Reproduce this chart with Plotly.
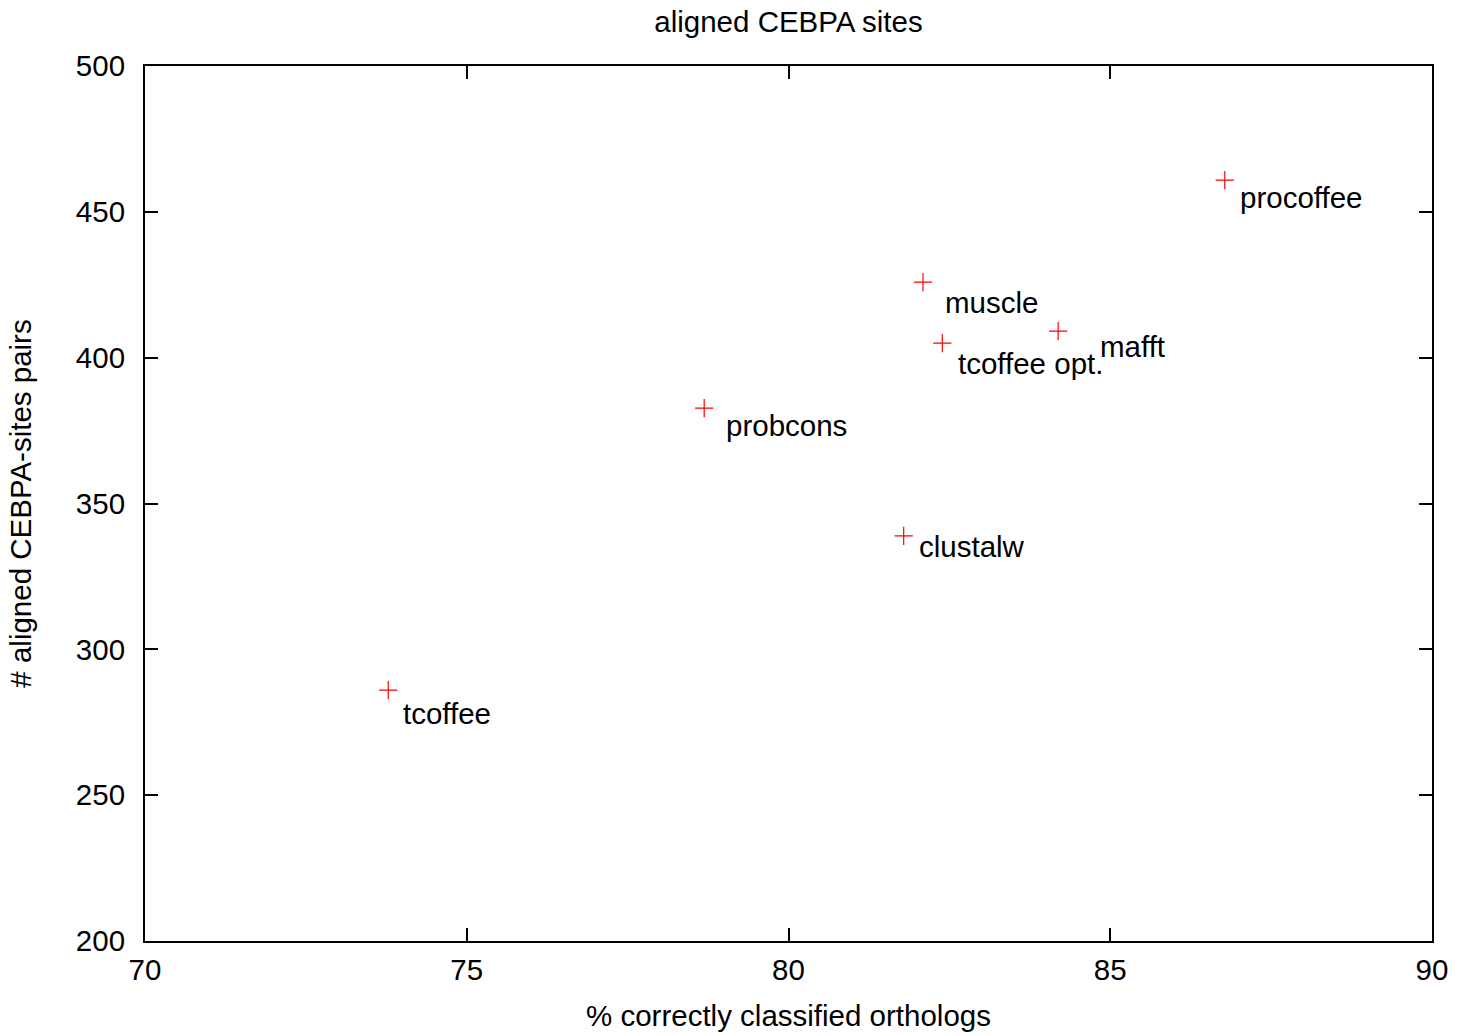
import plotly.graph_objects as go

# Data
methods = ["procoffee", "muscle", "mafft", "tcoffee opt.", "probcons", "clustalw", "tcoffee"]
pct_orthologs = [86.78, 82.09, 84.19, 82.39, 78.69, 81.79, 73.78]
aligned_pairs = [460.9, 425.9, 409.1, 405.0, 382.7, 338.9, 286.0]

x_ticks = [70, 75, 80, 85, 90]
y_ticks = [200, 250, 300, 350, 400, 450, 500]

# label pixel offsets (styling only)
label_shift = {
    "procoffee": (13, -17),
    "muscle": (20, -20),
    "mafft": (40, -15),
    "tcoffee opt.": (14, -20),
    "probcons": (20, -17),
    "clustalw": (13, -11),
    "tcoffee": (13, -23),
}

FONT = "Liberation Sans, Arial, sans-serif"
fs = 29.5

fig = go.Figure()
fig.add_trace(go.Scatter(
    x=pct_orthologs, y=aligned_pairs, mode="markers",
    marker=dict(symbol="cross-thin", size=13, line=dict(color="#ff0000", width=1.2)),
    showlegend=False, hoverinfo="text", text=methods,
))

for m, xv, yv in zip(methods, pct_orthologs, aligned_pairs):
    dx, dy = label_shift[m]
    fig.add_annotation(x=xv, y=yv, text=m, showarrow=False, xanchor="left", yanchor="middle",
                       xshift=dx, yshift=dy, font=dict(family=FONT, size=fs, color="black"))

axis_common = dict(showline=True, linecolor="black", linewidth=2, mirror="allticks",
                   ticks="inside", ticklen=13, tickwidth=2, tickcolor="black",
                   showgrid=False, zeroline=False, automargin=False,
                   tickfont=dict(family=FONT, size=fs, color="black"))

fig.update_layout(
    width=1458, height=1036,
    margin=dict(l=145, r=26, t=66, b=95),
    paper_bgcolor="white", plot_bgcolor="white",
    title=dict(text="aligned CEBPA sites", x=0.5, xref="paper", xanchor="center",
               y=1 - 22 / 1036, yanchor="middle",
               font=dict(family=FONT, size=fs, color="black")),
    xaxis=dict(range=[70, 90], tickvals=x_ticks, ticktext=[str(v) for v in x_ticks],
               ticklabelstandoff=2,
               title=dict(text="% correctly classified orthologs", standoff=20,
                          font=dict(family=FONT, size=fs, color="black")), **axis_common),
    yaxis=dict(range=[200, 500], tickvals=y_ticks, ticktext=[str(v) for v in y_ticks],
               ticklabelstandoff=12,
               title=dict(text="# aligned CEBPA-sites pairs", standoff=36,
                          font=dict(family=FONT, size=fs, color="black")), **axis_common),
)

fig.write_html("out.html")
